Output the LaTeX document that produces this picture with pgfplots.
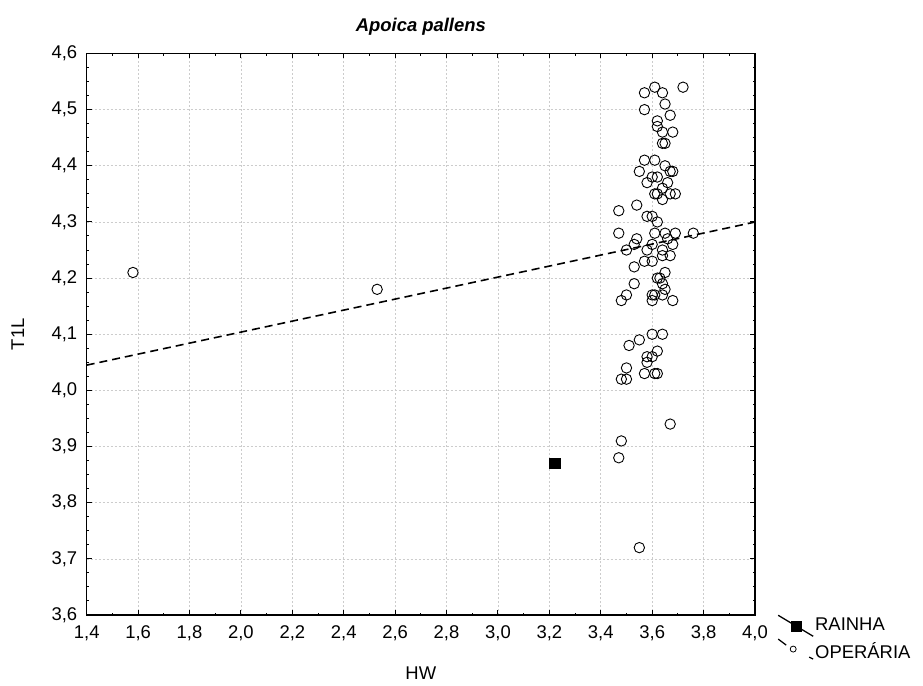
\documentclass[border=0pt]{standalone}
\usepackage{pgfplots}
\pgfplotsset{compat=1.18}
\usepackage{fontspec}
\setmainfont{Liberation Sans}
\pgfplotstableread{
x y
1.58 4.21
2.53 4.18
3.57 4.53
3.61 4.54
3.64 4.53
3.72 4.54
3.65 4.51
3.57 4.50
3.67 4.49
3.62 4.48
3.62 4.47
3.64 4.46
3.68 4.46
3.64 4.44
3.65 4.44
3.57 4.41
3.61 4.41
3.65 4.40
3.55 4.39
3.67 4.39
3.68 4.39
3.60 4.38
3.62 4.38
3.58 4.37
3.64 4.36
3.66 4.37
3.61 4.35
3.62 4.35
3.67 4.35
3.69 4.35
3.64 4.34
3.54 4.33
3.47 4.32
3.58 4.31
3.60 4.31
3.62 4.30
3.47 4.28
3.61 4.28
3.65 4.28
3.69 4.28
3.76 4.28
3.54 4.27
3.66 4.27
3.50 4.25
3.53 4.26
3.58 4.25
3.60 4.26
3.64 4.25
3.68 4.26
3.64 4.24
3.67 4.24
3.57 4.23
3.60 4.23
3.53 4.22
3.62 4.20
3.65 4.21
3.63 4.20
3.53 4.19
3.64 4.19
3.65 4.18
3.50 4.17
3.60 4.17
3.61 4.17
3.64 4.17
3.48 4.16
3.60 4.16
3.68 4.16
3.60 4.10
3.64 4.10
3.55 4.09
3.51 4.08
3.62 4.07
3.58 4.06
3.60 4.06
3.58 4.05
3.50 4.04
3.57 4.03
3.61 4.03
3.62 4.03
3.48 4.02
3.50 4.02
3.67 3.94
3.48 3.91
3.47 3.88
3.55 3.72
}\operaria
\pgfplotstableread{
x y
3.22 3.87
}\rainha
\begin{document}
\begin{tikzpicture}
\path[use as bounding box] (-86.7bp,-71bp) rectangle (836.3bp,615bp);
\begin{axis}[
  at={(0,0)}, anchor=south west,
  scale only axis, width=668.3bp, height=561.5bp,
  xmin=1.4, xmax=4.0, ymin=3.6, ymax=4.6,
  xtick distance=0.2, ytick distance=0.1,
  minor x tick num=1, minor y tick num=3,
  tick align=inside, xtick pos=both, ytick pos=both,
  major tick length=5bp, minor tick length=2.5bp,
  every tick/.style={black, line width=1pt},
  axis line style={line width=1.5pt},
  grid=major, major grid style={gray!40, dash pattern=on 2bp off 2bp, line width=0.6pt},
  /pgf/number format/use comma,
  /pgf/number format/fixed,
  /pgf/number format/fixed zerofill,
  /pgf/number format/precision=1,
  /pgf/number format/assume math mode=true,
  tick label style={font=\fontsize{18.5}{21}\selectfont},
  xticklabel style={anchor=center, yshift=-18bp},
  yticklabel style={anchor=east, xshift=-6bp},
  title={Apoica pallens},
  title style={font=\fontsize{18.5}{21}\selectfont\bfseries\itshape, at={(axis description cs:0.5,1.0365)}, anchor=center},
  xlabel={HW},
  xlabel style={font=\fontsize{18.5}{21}\selectfont, at={(axis description cs:0.5,-0.104)}, anchor=center},
  ylabel={T1L},
  ylabel style={font=\fontsize{18.5}{21}\selectfont, at={(axis description cs:-0.1033,0.5)}, anchor=center},
  legend style={at={(axis description cs:1,0)}, anchor=north west, xshift=20bp, yshift=1bp,
    draw=none, fill=none, font=\fontsize{18.5}{21}\selectfont, row sep=6bp},
  legend cell align=left,
]
\addlegendimage{legend image code/.code={
  \path[draw=none, fill=none] (0bp,-2bp) rectangle (35bp,2bp);
  \draw[overlay, black, solid, line width=1.3pt] (0bp,10bp) -- (35bp,-11bp);
  \fill[overlay, black] (13bp,-6bp) rectangle (23bp,4bp);}}
\addlegendentry{RAINHA}
\addlegendimage{legend image code/.code={
  \path[draw=none, fill=none] (0bp,-2bp) rectangle (35bp,2bp);
  \draw[overlay, black, solid, line width=1.3pt] (0bp,12bp) -- (8bp,6bp);
  \draw[overlay, black, solid, fill=none, line width=0.8pt] (15bp,2bp) circle (3bp);
  \draw[overlay, black, solid, line width=1.3pt] (31bp,-6bp) -- (35bp,-8bp);}}
\addlegendentry{OPERÁRIA}
\addplot[forget plot, black, line width=1.6pt, dash pattern=on 8bp off 5bp] coordinates {(1.4,4.045) (4.0,4.2998)};
\addplot[forget plot, only marks, mark=o, mark size=5.2bp, mark options={black, line width=0.9pt}] table {\operaria};
\addplot[forget plot, only marks, mark=square*, mark size=5.2bp, mark options={black}] table {\rainha};
\end{axis}
\end{tikzpicture}
\end{document}
